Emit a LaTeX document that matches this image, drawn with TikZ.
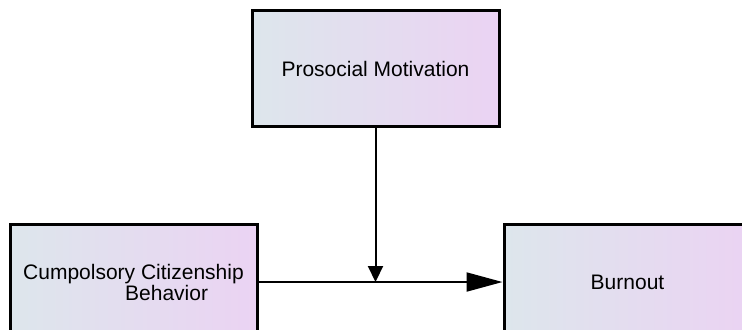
\documentclass[tikz,border=0pt]{standalone}
\usepackage{fontspec}
\setmainfont{Liberation Sans}
\usetikzlibrary{arrows.meta}
\definecolor{boxleft}{HTML}{DDE6EC}
\definecolor{boxright}{HTML}{EBD3F3}

\begin{document}
\begin{tikzpicture}[x=0.5pt, y=-0.5pt,
		varbox/.style={draw=black, line width=1.5pt, left color=boxleft, right color=boxright,
			minimum width=123.5pt, minimum height=58pt, inner sep=0pt,
			font=\fontsize{10.5}{11}\selectfont},
		link/.style={line width=1pt}]
			\useasboundingbox (0,0) rectangle (742,329);
			\node[varbox] (pm) at (375.5,68.5) {Prosocial Motivation};
			\node[varbox, align=left] (cc) at (133.5,282) {Cumpolsory Citizenship\\[-0.5pt]\hspace{51pt}Behavior};
			\node[varbox] (bo) at (627.5,282) {Burnout};
%			\draw (cc.east) -- (bo.west);
			\coordinate (mid) at (pm.south |- cc.east);
			\draw[link, -{Triangle[length=18pt, width=9.5pt]}] (cc.east) -- (bo.west);
			\draw[link, -{Triangle[length=8pt, width=7.5pt]}] (pm.south) -- (mid);
		\end{tikzpicture}
\end{document}
